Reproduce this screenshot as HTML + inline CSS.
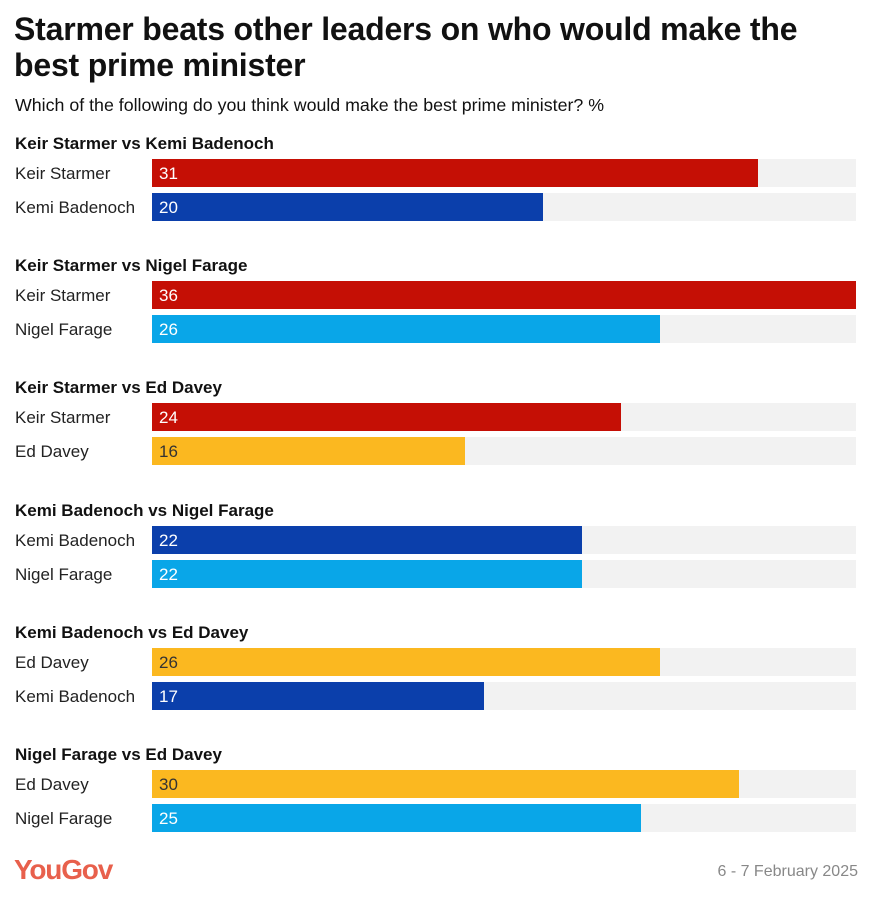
<!DOCTYPE html>
<html><head><meta charset="utf-8"><style>
body{margin:0;width:872px;height:900px;background:#fff;font-family:"Liberation Sans",sans-serif;position:relative;overflow:hidden}
.t{position:absolute;white-space:nowrap}
</style></head><body>
<div class="t" style="left:14px;top:11px;font-size:32px;font-weight:bold;line-height:36px;color:#111;letter-spacing:-0.2px">Starmer beats other leaders on who would make the<br>best prime minister</div>
<div class="t" style="left:15px;top:95px;font-size:17.8px;color:#111">Which of the following do you think would make the best prime minister? %</div>
<div id="chart"></div>
<div class="t" style="left:14px;top:854px;font-size:28px;font-weight:bold;color:#e8604c;letter-spacing:-1.2px">YouGov</div>
<div class="t" style="right:14px;top:863px;font-size:16px;color:#888">6 - 7 February 2025</div>
<script>
const groups=["Keir Starmer vs Kemi Badenoch","Keir Starmer vs Nigel Farage","Keir Starmer vs Ed Davey","Kemi Badenoch vs Nigel Farage","Kemi Badenoch vs Ed Davey","Nigel Farage vs Ed Davey"];
const labelsA=["Keir Starmer","Keir Starmer","Keir Starmer","Kemi Badenoch","Ed Davey","Ed Davey"];
const valuesA=[31,36,24,22,26,30];
const labelsB=["Kemi Badenoch","Nigel Farage","Ed Davey","Nigel Farage","Kemi Badenoch","Nigel Farage"];
const valuesB=[20,26,16,22,17,25];
const maxVal=36;
const colors={"Keir Starmer":"#c50f05","Kemi Badenoch":"#0b3fab","Nigel Farage":"#09a6e8","Ed Davey":"#fbb820"};
const x0=152,x1=856;
function xs(v){return v/maxVal*(x1-x0);}
const c=document.getElementById('chart');
function add(html,name){const d=document.createElement('div');d.innerHTML=html;const e=d.firstChild;


c.appendChild(e);return e;}
groups.forEach((g,i)=>{
  const y=130+i*122.2;
  add(`<div class="t" style="left:15px;top:${y+4}px;font-size:17px;font-weight:bold;color:#111">${g}</div>`,'group-heading');
  [[labelsA[i],valuesA[i]],[labelsB[i],valuesB[i]]].forEach((r,j)=>{
    const by=y+29+j*34;
    add(`<div class="t" style="left:15px;top:${by+5}px;font-size:17px;color:#222">${r[0]}</div>`,'row-label');
    add(`<div class="t" style="left:${x0}px;top:${by}px;width:${x1-x0}px;height:28px;background:#f2f2f2"></div>`,'bar-track');
    add(`<div class="t" style="left:${x0}px;top:${by}px;width:${xs(r[1])}px;height:28px;background:${colors[r[0]]}"></div>`,'bar');
    add(`<div class="t" style="left:${x0+7}px;top:${by+5}px;font-size:17px;color:${r[0]=='Ed Davey'?'#333':'#fff'}">${r[1]}</div>`,'bar-value');
  });
});
</script>
</body></html>
